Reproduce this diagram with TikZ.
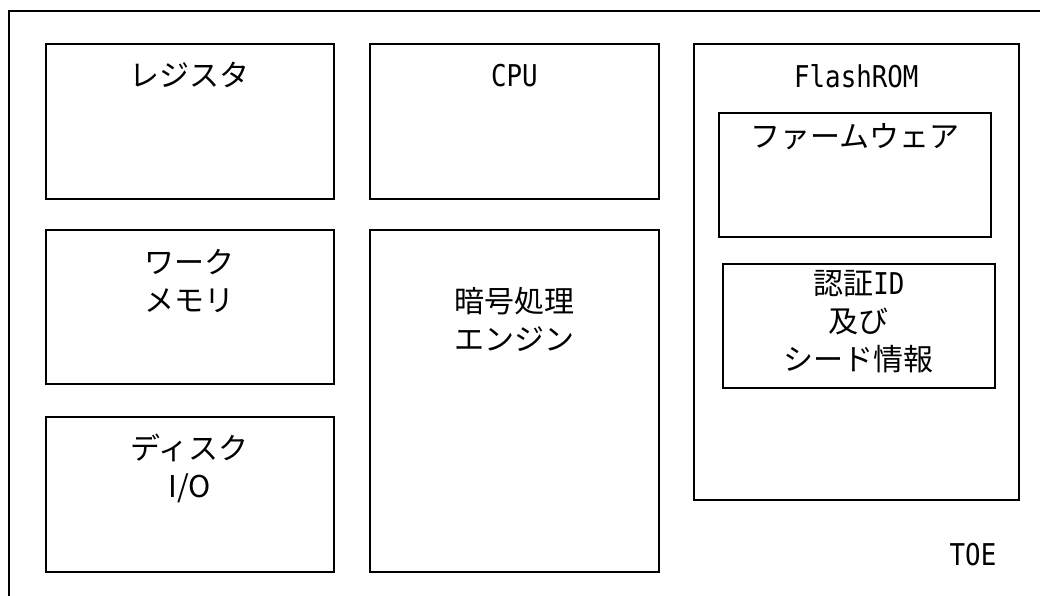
\documentclass[tikz,border=0pt]{standalone}
\usepackage{fontspec}
\setmainfont{Noto Sans CJK JP}
\newfontfamily\narrowfont[FakeStretch=0.86]{DejaVu Sans Mono}
\tikzset{
	box/.style={draw, line width=1.6pt, inner sep=0pt, anchor=north west},
	lbl/.style={align=center, font=\fontsize{30}{38}\selectfont},
	nlbl/.style={align=center, font=\fontsize{30}{38}\selectfont\narrowfont}
}

\begin{document}
\begin{tikzpicture}[x=1pt,y=-1pt]
	\useasboundingbox (0,0) rectangle (1040,596);
	\draw[line width=1.6pt] (9,620) |- (1060,11);
	\node[box, minimum width=288pt, minimum height=155pt] (reg) at (45,43) {};
	\node[box, minimum width=289pt, minimum height=155pt] (cpu) at (369,43) {};
	\node[box, minimum width=325pt, minimum height=456pt] (flash) at (693,43) {};
	\node[box, minimum width=272pt, minimum height=124pt] (fw) at (718,112) {};
	\node[box, minimum width=272pt, minimum height=124pt] (auth) at (722,263) {};
	\node[box, minimum width=288pt, minimum height=154pt] (work) at (45,229) {};
	\node[box, minimum width=288pt, minimum height=155pt] (disk) at (45,416) {};
	\node[box, minimum width=289pt, minimum height=342pt] (crypto) at (369,229) {};
	\node[lbl] (reglbl) at ([yshift=-32pt]reg.north) {レジスタ};
	\node[nlbl] (cpulbl) at ([yshift=-33pt]cpu.north) {CPU};
	\node[nlbl] (flashlbl) at ([yshift=-33pt]flash.north) {FlashROM};
	\node[lbl] (fwlbl) at ([yshift=-25pt]fw.north) {ファームウェア};
	\node[lbl] (authlbl) at ([yshift=-59pt]auth.north) {認証{\narrowfont ID}\\及び\\シード情報};
	\node[lbl] (worklbl) at ([yshift=-52pt]work.north) {ワーク\\メモリ};
	\node[lbl] (cryptolbl) at ([yshift=-90pt]crypto.north) {暗号処理\\エンジン};
	\node[lbl] (disklbl) at ([yshift=-52pt]disk.north) {ディスク\\I/O};
	\node[nlbl] (toe) at (973,555) {TOE};
\end{tikzpicture}
\end{document}
